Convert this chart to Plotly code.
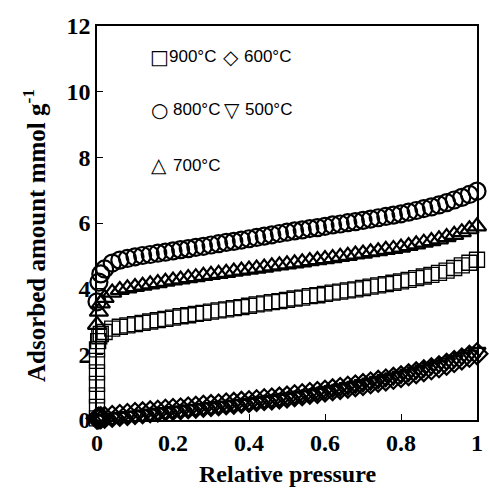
import plotly.graph_objects as go

# ---- data ----
x_grid = [0.0, 0.005, 0.01, 0.02, 0.04, 0.06, 0.08, 0.10, 0.12, 0.14, 0.16, 0.18, 0.20,
          0.22, 0.24, 0.26, 0.28, 0.30, 0.32, 0.34, 0.36, 0.38, 0.40, 0.42, 0.44, 0.46,
          0.48, 0.50, 0.52, 0.54, 0.56, 0.58, 0.60, 0.62, 0.64, 0.66, 0.68, 0.70, 0.72,
          0.74, 0.76, 0.78, 0.80, 0.82, 0.84, 0.86, 0.88, 0.90, 0.92, 0.94, 0.96, 0.98, 1.00]

y_800 = [3.6, 4.2, 4.45, 4.6, 4.78, 4.87, 4.92, 4.97, 5.01, 5.04, 5.08, 5.11, 5.15,
         5.19, 5.22, 5.26, 5.29, 5.33, 5.37, 5.41, 5.44, 5.48, 5.52, 5.56, 5.6, 5.64,
         5.68, 5.72, 5.76, 5.79, 5.83, 5.86, 5.9, 5.94, 5.97, 6.01, 6.04, 6.08, 6.12,
         6.16, 6.2, 6.24, 6.28, 6.33, 6.38, 6.44, 6.49, 6.55, 6.62, 6.7, 6.78, 6.87, 6.97]

y_700 = [2.9, 3.3, 3.55, 3.72, 3.88, 3.96, 4.01, 4.05, 4.09, 4.13, 4.17, 4.21, 4.25,
         4.28, 4.32, 4.35, 4.39, 4.42, 4.45, 4.48, 4.52, 4.55, 4.58, 4.61, 4.64, 4.68,
         4.71, 4.74, 4.77, 4.8, 4.84, 4.87, 4.9, 4.93, 4.97, 5.0, 5.04, 5.07, 5.11,
         5.14, 5.18, 5.21, 5.25, 5.3, 5.35, 5.4, 5.45, 5.5, 5.57, 5.64, 5.72, 5.81, 5.9]

x_900 = [0.0, 0.0, 0.0, 0.0, 0.0, 0.0, 0.0, 0.003, 0.006, 0.01,
         0.02, 0.04, 0.06, 0.08, 0.10, 0.12, 0.14, 0.16, 0.18, 0.20,
         0.22, 0.24, 0.26, 0.28, 0.30, 0.32, 0.34, 0.36, 0.38, 0.40,
         0.42, 0.44, 0.46, 0.48, 0.50, 0.52, 0.54, 0.56, 0.58, 0.60,
         0.62, 0.64, 0.66, 0.68, 0.70, 0.72, 0.74, 0.76, 0.78, 0.80,
         0.82, 0.84, 0.86, 0.88, 0.90, 0.92, 0.94, 0.96, 0.98, 1.00]
y_900 = [0.05, 0.4, 0.75, 1.1, 1.45, 1.8, 2.15, 2.4, 2.55, 2.62,
         2.68, 2.78, 2.84, 2.88, 2.92, 2.96, 3.0, 3.04, 3.08, 3.12,
         3.16, 3.19, 3.23, 3.26, 3.3, 3.34, 3.37, 3.41, 3.44, 3.48,
         3.52, 3.55, 3.59, 3.62, 3.66, 3.7, 3.73, 3.77, 3.8, 3.84,
         3.88, 3.91, 3.95, 3.98, 4.02, 4.06, 4.1, 4.14, 4.18, 4.22,
         4.27, 4.32, 4.37, 4.42, 4.48, 4.55, 4.63, 4.71, 4.79, 4.88]

y_600 = [0.05, 0.06, 0.07, 0.08, 0.11, 0.14, 0.17, 0.2, 0.22, 0.25, 0.27, 0.3, 0.32,
         0.34, 0.37, 0.39, 0.42, 0.44, 0.46, 0.49, 0.51, 0.54, 0.56, 0.59, 0.62, 0.64,
         0.67, 0.7, 0.74, 0.77, 0.81, 0.84, 0.88, 0.92, 0.96, 1.0, 1.04, 1.08, 1.13,
         1.18, 1.22, 1.27, 1.32, 1.38, 1.44, 1.5, 1.56, 1.62, 1.7, 1.78, 1.86, 1.94, 2.02]

y_500 = [0.02, 0.03, 0.04, 0.05, 0.08, 0.1, 0.13, 0.15, 0.18, 0.2, 0.23, 0.25, 0.28,
         0.3, 0.33, 0.35, 0.38, 0.4, 0.43, 0.45, 0.48, 0.5, 0.53, 0.56, 0.59, 0.62,
         0.65, 0.68, 0.72, 0.76, 0.79, 0.83, 0.87, 0.92, 0.96, 1.01, 1.05, 1.1, 1.15,
         1.2, 1.26, 1.31, 1.36, 1.42, 1.49, 1.55, 1.62, 1.68, 1.76, 1.84, 1.92, 2.0, 2.08]

x_ticks = [0, 0.2, 0.4, 0.6, 0.8, 1.0]
x_tick_labels = ["0", "0.2", "0.4", "0.6", "0.8", "1"]
y_ticks = [0, 2, 4, 6, 8, 10, 12]
y_tick_labels = ["0", "2", "4", "6", "8", "10", "12"]

series = [
    ("500°C", x_grid, y_500, "triangle-down-open", 15, 2.2),
    ("600°C", x_grid, y_600, "diamond-open", 16, 2.2),
    ("900°C", x_900, y_900, "square-open", 15, 1.3),
    ("700°C", x_grid, y_700, "triangle-up-open", 16, 2.2),
    ("800°C", x_grid, y_800, "circle-open", 17, 2.2),
]

fig = go.Figure()
for name, xs, ys, sym, size, lw in series:
    fig.add_trace(go.Scatter(
        x=xs, y=ys, mode="markers", name=name, cliponaxis=False,
        marker=dict(symbol=sym, size=size, color="black", line=dict(color="black", width=lw)),
    ))

serif = "Liberation Serif, Times New Roman, serif"
sans = "Liberation Sans, Arial, sans-serif"

W, H = 489, 490
L, R, T, B = 97, 477, 26, 420
def px(xp):
    return (xp - L) / (R - L)
def py(yp):
    return (B - yp) / (B - T)

legend_items = [
    # (symbol, sym_x, text, text_x, y)
    ("□", 148, "900°C", 167, 57),
    ("◇", 221, "600°C", 242, 57),
    ("○", 149, "800°C", 171, 110),
    ("▽", 222, "500°C", 243, 110),
    ("△", 149, "700°C", 171, 165),
]
anns = []
for sym, sx, txt, tx, y in legend_items:
    anns.append(dict(text=sym, x=px(sx), y=py(y), xref="paper", yref="paper",
                     xanchor="left", yanchor="middle", showarrow=False,
                     font=dict(family="DejaVu Sans", size=20, color="black")))
    anns.append(dict(text=txt, x=px(tx), y=py(y), xref="paper", yref="paper",
                     xanchor="left", yanchor="middle", showarrow=False,
                     font=dict(family=sans, size=17, color="black")))

# axis titles as annotations for exact placement
anns.append(dict(text="Relative pressure", x=px(287), y=py(474), xref="paper", yref="paper",
                 xanchor="center", yanchor="middle", showarrow=False,
                 font=dict(family=serif, size=24, color="black", weight="bold")))
anns.append(dict(text="Adsorbed amount mmol g<sup>-1</sup>", x=px(34), y=py(236), xref="paper", yref="paper",
                 xanchor="center", yanchor="middle", showarrow=False, textangle=-90,
                 font=dict(family=serif, size=25, color="black", weight="bold")))

fig.update_layout(
    width=W, height=H,
    margin=dict(l=L, r=W - R, t=T, b=H - B, autoexpand=False),
    paper_bgcolor="white", plot_bgcolor="white",
    showlegend=False,
    annotations=anns,
    font=dict(family=serif, color="black"),
)
fig.update_xaxes(
    range=[0, 1], tickvals=x_ticks, ticktext=x_tick_labels, automargin=False,
    showline=True, mirror=True, linecolor="black", linewidth=1.5,
    ticks="inside", ticklen=6, tickcolor="black", tickwidth=1,
    showgrid=False, zeroline=False,
    tickfont=dict(family=serif, size=24, color="black", weight="bold"),
)
fig.update_yaxes(
    range=[0, 12], tickvals=y_ticks, ticktext=y_tick_labels, automargin=False,
    showline=True, mirror=True, linecolor="black", linewidth=1.5,
    ticks="inside", ticklen=6, tickcolor="black", tickwidth=1,
    showgrid=False, zeroline=False,
    tickfont=dict(family=serif, size=24, color="black", weight="bold"),
)

fig.write_html("out.html", config={"displayModeBar": False},
               post_script="document.body.style.margin='0';document.body.style.overflow='hidden';")
